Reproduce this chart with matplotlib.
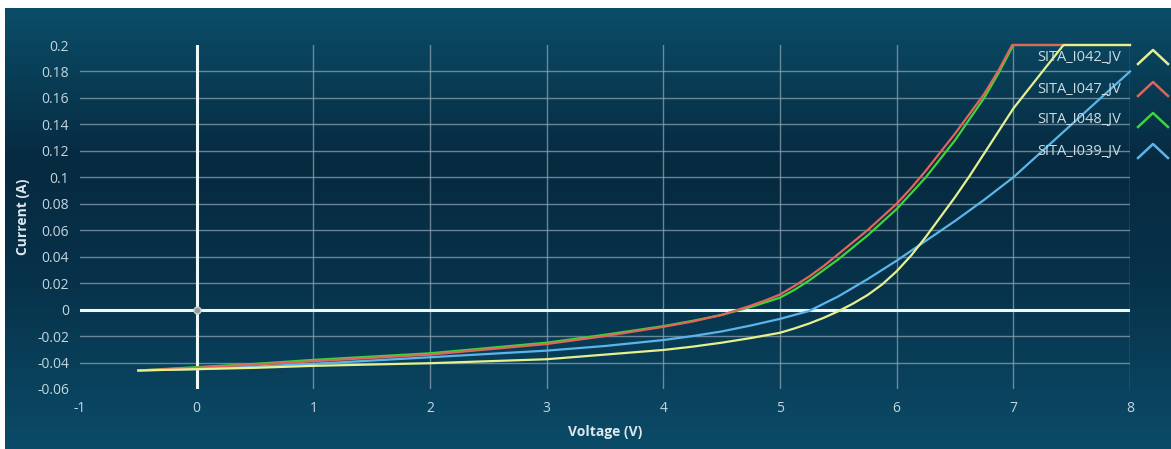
import numpy as np
import matplotlib
matplotlib.use("Agg")
from matplotlib import pyplot as plt
from matplotlib.lines import Line2D

plt.rcParams['font.family'] = ['Open Sans', 'DejaVu Sans']

# series (voltage V, current A)
v_i042 = [-0.5, 0, 0.5, 1, 1.5, 2, 2.5, 3, 3.5, 4, 4.25, 4.5, 4.75, 5, 5.125, 5.25, 5.375, 5.5, 5.625, 5.75,
          5.875, 6, 6.125, 6.25, 6.375, 6.5, 6.625, 6.75, 6.875, 7.0, 7.125, 7.25, 7.43, 8.0]
i_i042 = [-0.046, -0.045, -0.044, -0.0425, -0.0415, -0.0405, -0.039, -0.0375, -0.034, -0.0305, -0.028, -0.025,
          -0.0215, -0.0175, -0.0142, -0.0105, -0.0062, -0.0012, 0.0045, 0.011, 0.019, 0.029, 0.041, 0.055, 0.070,
          0.085, 0.101, 0.118, 0.135, 0.152, 0.166, 0.180, 0.2, 0.2]

v_i047 = [-0.5, 0, 0.5, 1, 1.5, 2, 2.5, 3, 3.5, 4, 4.25, 4.5, 4.625, 4.75, 4.875, 5, 5.125, 5.25, 5.375, 5.5,
          5.625, 5.75, 5.875, 6, 6.125, 6.25, 6.375, 6.5, 6.625, 6.75, 6.875, 6.99, 8.0]
i_i047 = [-0.046, -0.044, -0.0415, -0.039, -0.0365, -0.034, -0.030, -0.026, -0.020, -0.013, -0.009, -0.004,
          -0.0005, 0.003, 0.007, 0.0114, 0.018, 0.025, 0.033, 0.042, 0.051, 0.060, 0.070, 0.080, 0.092, 0.105,
          0.119, 0.133, 0.148, 0.163, 0.181, 0.2, 0.2]

v_i048 = [-0.5, 0, 0.5, 1, 1.5, 2, 2.5, 3, 3.5, 4, 4.25, 4.5, 4.625, 4.75, 4.875, 5, 5.125, 5.25, 5.375, 5.5,
          5.625, 5.75, 5.875, 6, 6.125, 6.25, 6.375, 6.5, 6.625, 6.75, 6.875, 7.0, 8.0]
i_i048 = [-0.046, -0.0435, -0.041, -0.038, -0.0355, -0.033, -0.029, -0.025, -0.019, -0.0125, -0.0085, -0.004,
          -0.001, 0.002, 0.0055, 0.009, 0.015, 0.022, 0.030, 0.038, 0.047, 0.056, 0.066, 0.076, 0.088, 0.100,
          0.114, 0.128, 0.144, 0.160, 0.179, 0.2, 0.2]

v_i039 = [-0.5, 0, 0.5, 1, 1.5, 2, 2.5, 3, 3.5, 4, 4.25, 4.5, 4.75, 5, 5.125, 5.25, 5.375, 5.5, 5.625, 5.75,
          5.875, 6, 6.25, 6.5, 6.75, 7, 7.25, 7.5, 7.75, 8]
i_i039 = [-0.046, -0.045, -0.043, -0.041, -0.0385, -0.036, -0.0335, -0.031, -0.0275, -0.023, -0.020, -0.0165,
          -0.012, -0.007, -0.004, -0.001, 0.0045, 0.010, 0.0165, 0.023, 0.030, 0.037, 0.052, 0.067, 0.083, 0.100,
          0.120, 0.140, 0.160, 0.180]

names = ["SITA_I042_JV", "SITA_I047_JV", "SITA_I048_JV", "SITA_I039_JV"]
colors = ["#e6f08c", "#e2645a", "#3ed43a", "#5ab6ea"]

x_ticks = [-1, 0, 1, 2, 3, 4, 5, 6, 7, 8]
y_ticks = [-0.06, -0.04, -0.02, 0, 0.02, 0.04, 0.06, 0.08, 0.1, 0.12, 0.14, 0.16, 0.18, 0.2]

fig = plt.figure(figsize=(11.71, 4.49), dpi=100, facecolor="white")

# gradient background (white strip top and left like the screenshot)
bg = fig.add_axes([5 / 1171, 0, 1 - 5 / 1171, 1 - 8 / 449])
bg.set_axis_off()
stops_y = [0.0, 0.35, 0.62, 1.0]
stops_c = [np.array([0x0b, 0x4d, 0x68]), np.array([0x06, 0x2a, 0x40]),
           np.array([0x07, 0x32, 0x4a]), np.array([0x0b, 0x4b, 0x68])]
ys = np.linspace(0, 1, 200)
grad = np.zeros((200, 1, 3))
for k in range(3):
    grad[:, 0, k] = np.interp(ys, stops_y, [c[k] for c in stops_c]) / 255
bg.imshow(grad, aspect="auto", extent=[0, 1, 1, 0])
bg.set_xlim(0, 1)
bg.set_ylim(1, 0)

ax = fig.add_axes([80 / 1171, 1 - 389 / 449, 1050 / 1171, 344 / 449])
ax.set_facecolor("none")
ax.set_xlim(-1, 8)
ax.set_ylim(-0.06, 0.2)
for s in ax.spines.values():
    s.set_visible(False)

ax.set_xticks(x_ticks)
ax.set_xticklabels([str(t) for t in x_ticks])
ax.set_yticks(y_ticks)
ax.set_yticklabels([("%g" % t) for t in y_ticks])
ax.tick_params(length=0, colors="#c4d6de", labelsize=10)
ax.tick_params(axis="y", pad=8)
ax.tick_params(axis="x", pad=9)

ax.grid(True, color="#8aa2b2", linewidth=1, alpha=0.75)
ax.get_xgridlines()[0].set_visible(False)
ax.get_ygridlines()[0].set_visible(False)
ax.get_ygridlines()[-1].set_visible(False)

ax.axhline(0, color="#eef8f6", linewidth=2.2, zorder=2)
ax.axvline(0, color="#eef8f6", linewidth=2.2, zorder=2)
ax.plot([0], [0], marker="o", markersize=5, color="#8e9ca2", markeredgecolor="#c8d0d0", zorder=6)

series = [(v_i039, i_i039, 3), (v_i048, i_i048, 2), (v_i047, i_i047, 1), (v_i042, i_i042, 0)]
for v, cur, k in series:
    ax.plot(v, cur, color=colors[k], linewidth=1.6, clip_on=False, zorder=4)

ax.set_xlabel("Voltage (V)", color="#dce8ee", fontsize=10, fontweight="bold", labelpad=6)
ax.set_ylabel("Current (A)", color="#dce8ee", fontsize=10, fontweight="bold", labelpad=5)

# legend: text with open chevrons to its right
leg_y = [57, 89, 120, 151]
for k in range(4):
    yf = 1 - leg_y[k] / 449
    fig.text(1121 / 1171, yf, names[k], color="#ccdce2", fontsize=10.5, ha="right", va="center", zorder=10)
    cx = 1153 / 1171
    hw = 15 / 1171
    hh = 7 / 449
    fig.add_artist(Line2D([cx - hw, cx, cx + hw], [yf - hh, yf + hh, yf - hh], color=colors[k],
                          linewidth=1.8, transform=fig.transFigure, zorder=10))

fig.savefig("out.png", dpi=100, facecolor="white")
